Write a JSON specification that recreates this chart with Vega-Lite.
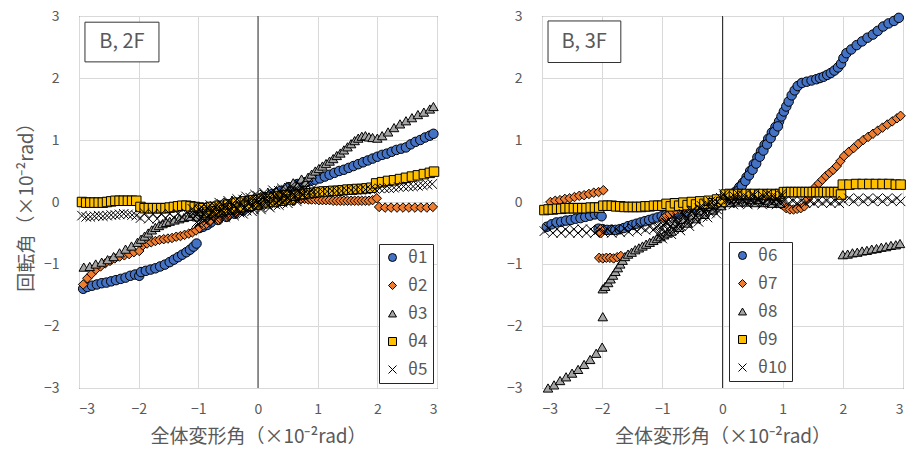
{
  "$schema": "https://vega.github.io/schema/vega-lite/v6.json",
  "padding": {"left": 16, "top": 8, "right": 2, "bottom": 4},
  "autosize": {"type": "pad"},
  "background": "white",
  "config": {
    "font": "Noto Sans CJK JP",
    "view": {"stroke": "#333333", "strokeWidth": 1},
    "axis": {
      "grid": true, "gridColor": "#d9d9d9", "gridWidth": 1,
      "ticks": false, "domain": false, "format": "d",
      "labelFont": "Noto Sans CJK JP", "labelFontSize": 14, "labelColor": "#595959",
      "titleFont": "Noto Sans CJK JP", "titleFontSize": 19, "titleFontWeight": "normal", "titleColor": "#595959"
    },
    "legend": {
      "labelFont": "Noto Sans CJK JP", "labelFontSize": 17, "labelColor": "#595959",
      "symbolSize": 64, "symbolStrokeColor": "#000000", "symbolStrokeWidth": 1,
      "strokeColor": "#262626", "fillColor": "#ffffff", "padding": 5,
      "rowPadding": 10, "labelOffset": 7
    }
  },
  "datasets": {
    "f2": [
      {"s":"θ1","x":-2.93,"y":-1.4},{"s":"θ1","x":-2.86,"y":-1.37},{"s":"θ1","x":-2.78,"y":-1.35},{"s":"θ1","x":-2.7,"y":-1.33},{"s":"θ1","x":-2.62,"y":-1.31},{"s":"θ1","x":-2.54,"y":-1.3},{"s":"θ1","x":-2.46,"y":-1.28},{"s":"θ1","x":-2.38,"y":-1.26},{"s":"θ1","x":-2.3,"y":-1.24},{"s":"θ1","x":-2.22,"y":-1.22},{"s":"θ1","x":-2.14,"y":-1.19},{"s":"θ1","x":-2.06,"y":-1.17},{"s":"θ1","x":-1.99,"y":-1.19},{"s":"θ1","x":-1.96,"y":-1.13},{"s":"θ1","x":-1.88,"y":-1.11},{"s":"θ1","x":-1.8,"y":-1.09},{"s":"θ1","x":-1.72,"y":-1.07},{"s":"θ1","x":-1.64,"y":-1.04},{"s":"θ1","x":-1.56,"y":-1.01},{"s":"θ1","x":-1.48,"y":-0.97},{"s":"θ1","x":-1.41,"y":-0.93},{"s":"θ1","x":-1.34,"y":-0.89},{"s":"θ1","x":-1.27,"y":-0.85},{"s":"θ1","x":-1.2,"y":-0.81},{"s":"θ1","x":-1.14,"y":-0.77},{"s":"θ1","x":-1.08,"y":-0.72},{"s":"θ1","x":-1.03,"y":-0.67},
      {"s":"θ1","x":-0.98,"y":-0.42},{"s":"θ1","x":-0.92,"y":-0.4},{"s":"θ1","x":-0.85,"y":-0.37},{"s":"θ1","x":-0.79,"y":-0.33},
      {"s":"θ1","x":-0.74,"y":-0.24},{"s":"θ1","x":-0.67,"y":-0.29},{"s":"θ1","x":-0.6,"y":-0.19},{"s":"θ1","x":-0.53,"y":-0.24},{"s":"θ1","x":-0.46,"y":-0.13},{"s":"θ1","x":-0.39,"y":-0.19},{"s":"θ1","x":-0.32,"y":-0.08},{"s":"θ1","x":-0.25,"y":-0.14},{"s":"θ1","x":-0.18,"y":-0.03},{"s":"θ1","x":-0.11,"y":-0.08},{"s":"θ1","x":-0.04,"y":0.02},{"s":"θ1","x":0.03,"y":-0.03},{"s":"θ1","x":0.1,"y":0.08},{"s":"θ1","x":0.17,"y":0.02},{"s":"θ1","x":0.24,"y":0.13},{"s":"θ1","x":0.31,"y":0.08},{"s":"θ1","x":0.38,"y":0.18},{"s":"θ1","x":0.45,"y":0.13},{"s":"θ1","x":0.52,"y":0.24},{"s":"θ1","x":0.59,"y":0.18},{"s":"θ1","x":0.66,"y":0.29},
      {"s":"θ1","x":0.72,"y":0.3},{"s":"θ1","x":0.8,"y":0.32},{"s":"θ1","x":0.88,"y":0.34},{"s":"θ1","x":0.96,"y":0.36},{"s":"θ1","x":1.04,"y":0.38},{"s":"θ1","x":1.12,"y":0.41},{"s":"θ1","x":1.2,"y":0.44},{"s":"θ1","x":1.28,"y":0.47},{"s":"θ1","x":1.36,"y":0.5},{"s":"θ1","x":1.44,"y":0.52},{"s":"θ1","x":1.52,"y":0.55},{"s":"θ1","x":1.6,"y":0.58},{"s":"θ1","x":1.68,"y":0.61},{"s":"θ1","x":1.76,"y":0.64},{"s":"θ1","x":1.84,"y":0.67},{"s":"θ1","x":1.92,"y":0.7},{"s":"θ1","x":2.0,"y":0.73},{"s":"θ1","x":2.08,"y":0.76},{"s":"θ1","x":2.16,"y":0.78},{"s":"θ1","x":2.24,"y":0.81},{"s":"θ1","x":2.32,"y":0.84},{"s":"θ1","x":2.4,"y":0.86},{"s":"θ1","x":2.48,"y":0.88},{"s":"θ1","x":2.56,"y":0.93},{"s":"θ1","x":2.64,"y":0.97},{"s":"θ1","x":2.72,"y":1.0},{"s":"θ1","x":2.8,"y":1.04},{"s":"θ1","x":2.88,"y":1.07},{"s":"θ1","x":2.94,"y":1.1},

      {"s":"θ2","x":-2.93,"y":-1.33},{"s":"θ2","x":-2.86,"y":-1.23},{"s":"θ2","x":-2.79,"y":-1.16},{"s":"θ2","x":-2.72,"y":-1.09},{"s":"θ2","x":-2.64,"y":-1.04},{"s":"θ2","x":-2.56,"y":-0.99},{"s":"θ2","x":-2.48,"y":-0.95},{"s":"θ2","x":-2.4,"y":-0.91},{"s":"θ2","x":-2.32,"y":-0.88},{"s":"θ2","x":-2.24,"y":-0.86},{"s":"θ2","x":-2.16,"y":-0.84},{"s":"θ2","x":-2.08,"y":-0.81},{"s":"θ2","x":-1.99,"y":-0.79},{"s":"θ2","x":-1.93,"y":-0.7},{"s":"θ2","x":-1.86,"y":-0.67},{"s":"θ2","x":-1.79,"y":-0.65},{"s":"θ2","x":-1.72,"y":-0.63},{"s":"θ2","x":-1.65,"y":-0.61},{"s":"θ2","x":-1.58,"y":-0.6},{"s":"θ2","x":-1.51,"y":-0.59},{"s":"θ2","x":-1.44,"y":-0.58},{"s":"θ2","x":-1.37,"y":-0.56},{"s":"θ2","x":-1.3,"y":-0.55},{"s":"θ2","x":-1.23,"y":-0.53},{"s":"θ2","x":-1.16,"y":-0.51},{"s":"θ2","x":-1.1,"y":-0.49},{"s":"θ2","x":-1.04,"y":-0.46},{"s":"θ2","x":-0.98,"y":-0.42},{"s":"θ2","x":-0.92,"y":-0.38},{"s":"θ2","x":-0.86,"y":-0.35},{"s":"θ2","x":-0.8,"y":-0.31},
      {"s":"θ2","x":-0.73,"y":-0.24},{"s":"θ2","x":-0.66,"y":-0.29},{"s":"θ2","x":-0.59,"y":-0.18},{"s":"θ2","x":-0.52,"y":-0.24},{"s":"θ2","x":-0.45,"y":-0.13},{"s":"θ2","x":-0.38,"y":-0.18},{"s":"θ2","x":-0.31,"y":-0.08},{"s":"θ2","x":-0.24,"y":-0.13},{"s":"θ2","x":-0.17,"y":-0.02},{"s":"θ2","x":-0.1,"y":-0.08},{"s":"θ2","x":-0.03,"y":0.03},{"s":"θ2","x":0.04,"y":-0.04},{"s":"θ2","x":0.11,"y":0.05},{"s":"θ2","x":0.18,"y":-0.02},{"s":"θ2","x":0.25,"y":0.07},{"s":"θ2","x":0.32,"y":-0.01},{"s":"θ2","x":0.39,"y":0.08},{"s":"θ2","x":0.46,"y":0.01},{"s":"θ2","x":0.53,"y":0.09},{"s":"θ2","x":0.6,"y":0.02},
      {"s":"θ2","x":0.66,"y":0.06},{"s":"θ2","x":0.72,"y":0.05},{"s":"θ2","x":0.78,"y":0.05},{"s":"θ2","x":0.84,"y":0.04},{"s":"θ2","x":0.9,"y":0.04},{"s":"θ2","x":0.96,"y":0.04},{"s":"θ2","x":1.02,"y":0.03},{"s":"θ2","x":1.08,"y":0.03},{"s":"θ2","x":1.14,"y":0.03},{"s":"θ2","x":1.2,"y":0.03},{"s":"θ2","x":1.26,"y":0.02},{"s":"θ2","x":1.32,"y":0.02},{"s":"θ2","x":1.38,"y":0.02},{"s":"θ2","x":1.44,"y":0.02},{"s":"θ2","x":1.5,"y":0.02},{"s":"θ2","x":1.56,"y":0.02},{"s":"θ2","x":1.62,"y":0.02},{"s":"θ2","x":1.68,"y":0.02},{"s":"θ2","x":1.74,"y":0.02},{"s":"θ2","x":1.8,"y":0.02},{"s":"θ2","x":1.86,"y":0.02},{"s":"θ2","x":1.92,"y":0.03},{"s":"θ2","x":1.99,"y":0.06},{"s":"θ2","x":2.03,"y":-0.08},{"s":"θ2","x":2.13,"y":-0.09},{"s":"θ2","x":2.23,"y":-0.09},{"s":"θ2","x":2.33,"y":-0.09},{"s":"θ2","x":2.43,"y":-0.09},{"s":"θ2","x":2.53,"y":-0.09},{"s":"θ2","x":2.63,"y":-0.09},{"s":"θ2","x":2.73,"y":-0.09},{"s":"θ2","x":2.83,"y":-0.09},{"s":"θ2","x":2.93,"y":-0.08},

      {"s":"θ3","x":-2.92,"y":-1.05},{"s":"θ3","x":-2.82,"y":-1.04},{"s":"θ3","x":-2.72,"y":-1.0},{"s":"θ3","x":-2.62,"y":-0.97},{"s":"θ3","x":-2.52,"y":-0.93},{"s":"θ3","x":-2.42,"y":-0.88},{"s":"θ3","x":-2.32,"y":-0.82},{"s":"θ3","x":-2.22,"y":-0.76},{"s":"θ3","x":-2.12,"y":-0.71},{"s":"θ3","x":-2.02,"y":-0.65},{"s":"θ3","x":-1.96,"y":-0.6},{"s":"θ3","x":-1.9,"y":-0.55},{"s":"θ3","x":-1.84,"y":-0.5},{"s":"θ3","x":-1.78,"y":-0.45},{"s":"θ3","x":-1.72,"y":-0.41},{"s":"θ3","x":-1.66,"y":-0.38},{"s":"θ3","x":-1.6,"y":-0.35},{"s":"θ3","x":-1.54,"y":-0.33},{"s":"θ3","x":-1.48,"y":-0.31},{"s":"θ3","x":-1.4,"y":-0.29},{"s":"θ3","x":-1.32,"y":-0.27},{"s":"θ3","x":-1.24,"y":-0.25},{"s":"θ3","x":-1.16,"y":-0.23},
      {"s":"θ3","x":-1.09,"y":-0.18},{"s":"θ3","x":-1.02,"y":-0.24},{"s":"θ3","x":-0.95,"y":-0.15},{"s":"θ3","x":-0.88,"y":-0.22},{"s":"θ3","x":-0.81,"y":-0.12},{"s":"θ3","x":-0.74,"y":-0.19},{"s":"θ3","x":-0.67,"y":-0.09},{"s":"θ3","x":-0.6,"y":-0.16},{"s":"θ3","x":-0.53,"y":-0.07},{"s":"θ3","x":-0.46,"y":-0.13},{"s":"θ3","x":-0.39,"y":-0.04},{"s":"θ3","x":-0.32,"y":-0.1},{"s":"θ3","x":-0.25,"y":-0.01},{"s":"θ3","x":-0.18,"y":-0.08},{"s":"θ3","x":-0.11,"y":0.02},{"s":"θ3","x":-0.04,"y":-0.05},{"s":"θ3","x":0.03,"y":0.05},{"s":"θ3","x":0.1,"y":0.01},{"s":"θ3","x":0.17,"y":0.12},{"s":"θ3","x":0.24,"y":0.07},{"s":"θ3","x":0.31,"y":0.18},{"s":"θ3","x":0.38,"y":0.13},{"s":"θ3","x":0.45,"y":0.24},{"s":"θ3","x":0.52,"y":0.19},{"s":"θ3","x":0.59,"y":0.31},{"s":"θ3","x":0.66,"y":0.26},{"s":"θ3","x":0.73,"y":0.37},{"s":"θ3","x":0.79,"y":0.32},
      {"s":"θ3","x":0.84,"y":0.4},{"s":"θ3","x":0.9,"y":0.45},{"s":"θ3","x":0.96,"y":0.5},{"s":"θ3","x":1.02,"y":0.54},{"s":"θ3","x":1.08,"y":0.58},{"s":"θ3","x":1.14,"y":0.62},{"s":"θ3","x":1.2,"y":0.66},{"s":"θ3","x":1.26,"y":0.7},{"s":"θ3","x":1.32,"y":0.75},{"s":"θ3","x":1.38,"y":0.79},{"s":"θ3","x":1.44,"y":0.84},{"s":"θ3","x":1.5,"y":0.89},{"s":"θ3","x":1.56,"y":0.94},{"s":"θ3","x":1.62,"y":0.99},{"s":"θ3","x":1.68,"y":1.03},{"s":"θ3","x":1.74,"y":1.06},{"s":"θ3","x":1.8,"y":1.07},{"s":"θ3","x":1.86,"y":1.05},{"s":"θ3","x":1.92,"y":1.04},{"s":"θ3","x":2.0,"y":1.03},{"s":"θ3","x":2.08,"y":1.07},{"s":"θ3","x":2.18,"y":1.13},{"s":"θ3","x":2.28,"y":1.2},{"s":"θ3","x":2.38,"y":1.26},{"s":"θ3","x":2.48,"y":1.31},{"s":"θ3","x":2.58,"y":1.36},{"s":"θ3","x":2.68,"y":1.41},{"s":"θ3","x":2.78,"y":1.45},{"s":"θ3","x":2.88,"y":1.5},{"s":"θ3","x":2.94,"y":1.54},

      {"s":"θ4","x":-2.95,"y":0.0},{"s":"θ4","x":-2.88,"y":-0.01},{"s":"θ4","x":-2.81,"y":-0.01},{"s":"θ4","x":-2.74,"y":-0.01},{"s":"θ4","x":-2.67,"y":-0.01},{"s":"θ4","x":-2.6,"y":-0.01},{"s":"θ4","x":-2.53,"y":0.0},{"s":"θ4","x":-2.46,"y":0.01},{"s":"θ4","x":-2.39,"y":0.02},{"s":"θ4","x":-2.32,"y":0.02},{"s":"θ4","x":-2.25,"y":0.02},{"s":"θ4","x":-2.18,"y":0.02},{"s":"θ4","x":-2.11,"y":0.02},{"s":"θ4","x":-2.04,"y":0.02},{"s":"θ4","x":-1.97,"y":-0.08},{"s":"θ4","x":-1.9,"y":-0.1},{"s":"θ4","x":-1.83,"y":-0.1},{"s":"θ4","x":-1.76,"y":-0.1},{"s":"θ4","x":-1.69,"y":-0.1},{"s":"θ4","x":-1.62,"y":-0.1},{"s":"θ4","x":-1.55,"y":-0.1},{"s":"θ4","x":-1.48,"y":-0.09},{"s":"θ4","x":-1.41,"y":-0.08},{"s":"θ4","x":-1.34,"y":-0.07},{"s":"θ4","x":-1.27,"y":-0.06},{"s":"θ4","x":-1.2,"y":-0.06},{"s":"θ4","x":-1.13,"y":-0.07},{"s":"θ4","x":-1.06,"y":-0.08},{"s":"θ4","x":-0.99,"y":-0.09},
      {"s":"θ4","x":-0.92,"y":-0.1},{"s":"θ4","x":-0.85,"y":-0.17},{"s":"θ4","x":-0.78,"y":-0.08},{"s":"θ4","x":-0.71,"y":-0.15},{"s":"θ4","x":-0.64,"y":-0.06},{"s":"θ4","x":-0.57,"y":-0.13},{"s":"θ4","x":-0.5,"y":-0.04},{"s":"θ4","x":-0.43,"y":-0.1},{"s":"θ4","x":-0.36,"y":-0.01},{"s":"θ4","x":-0.29,"y":-0.08},{"s":"θ4","x":-0.22,"y":0.01},{"s":"θ4","x":-0.15,"y":-0.06},{"s":"θ4","x":-0.08,"y":0.03},{"s":"θ4","x":-0.01,"y":-0.04},{"s":"θ4","x":0.06,"y":0.05},{"s":"θ4","x":0.13,"y":-0.02},{"s":"θ4","x":0.2,"y":0.07},{"s":"θ4","x":0.27,"y":0.0},{"s":"θ4","x":0.34,"y":0.09},{"s":"θ4","x":0.41,"y":0.02},{"s":"θ4","x":0.48,"y":0.11},{"s":"θ4","x":0.55,"y":0.04},
      {"s":"θ4","x":0.62,"y":0.1},{"s":"θ4","x":0.7,"y":0.12},{"s":"θ4","x":0.78,"y":0.13},{"s":"θ4","x":0.86,"y":0.14},{"s":"θ4","x":0.94,"y":0.15},{"s":"θ4","x":1.02,"y":0.16},{"s":"θ4","x":1.1,"y":0.17},{"s":"θ4","x":1.18,"y":0.17},{"s":"θ4","x":1.26,"y":0.18},{"s":"θ4","x":1.34,"y":0.18},{"s":"θ4","x":1.42,"y":0.19},{"s":"θ4","x":1.5,"y":0.2},{"s":"θ4","x":1.58,"y":0.2},{"s":"θ4","x":1.66,"y":0.21},{"s":"θ4","x":1.74,"y":0.21},{"s":"θ4","x":1.82,"y":0.22},{"s":"θ4","x":1.9,"y":0.23},{"s":"θ4","x":1.98,"y":0.3},{"s":"θ4","x":2.08,"y":0.32},{"s":"θ4","x":2.18,"y":0.34},{"s":"θ4","x":2.28,"y":0.35},{"s":"θ4","x":2.38,"y":0.37},{"s":"θ4","x":2.48,"y":0.39},{"s":"θ4","x":2.58,"y":0.41},{"s":"θ4","x":2.68,"y":0.43},{"s":"θ4","x":2.78,"y":0.45},{"s":"θ4","x":2.88,"y":0.47},{"s":"θ4","x":2.95,"y":0.49},

      {"s":"θ5","x":-2.95,"y":-0.22},{"s":"θ5","x":-2.88,"y":-0.24},{"s":"θ5","x":-2.81,"y":-0.24},{"s":"θ5","x":-2.74,"y":-0.23},{"s":"θ5","x":-2.67,"y":-0.22},{"s":"θ5","x":-2.6,"y":-0.23},{"s":"θ5","x":-2.53,"y":-0.22},{"s":"θ5","x":-2.46,"y":-0.21},{"s":"θ5","x":-2.39,"y":-0.21},{"s":"θ5","x":-2.32,"y":-0.2},{"s":"θ5","x":-2.25,"y":-0.19},{"s":"θ5","x":-2.18,"y":-0.2},{"s":"θ5","x":-2.11,"y":-0.21},{"s":"θ5","x":-2.04,"y":-0.22},{"s":"θ5","x":-1.97,"y":-0.26},{"s":"θ5","x":-1.9,"y":-0.18},{"s":"θ5","x":-1.83,"y":-0.27},{"s":"θ5","x":-1.76,"y":-0.19},{"s":"θ5","x":-1.69,"y":-0.27},{"s":"θ5","x":-1.62,"y":-0.19},{"s":"θ5","x":-1.55,"y":-0.26},{"s":"θ5","x":-1.48,"y":-0.19},{"s":"θ5","x":-1.41,"y":-0.25},{"s":"θ5","x":-1.34,"y":-0.19},{"s":"θ5","x":-1.27,"y":-0.24},{"s":"θ5","x":-1.2,"y":-0.18},{"s":"θ5","x":-1.13,"y":-0.22},{"s":"θ5","x":-1.06,"y":-0.17},
      {"s":"θ5","x":-0.99,"y":-0.13},{"s":"θ5","x":-0.92,"y":-0.2},{"s":"θ5","x":-0.85,"y":-0.1},{"s":"θ5","x":-0.78,"y":-0.17},{"s":"θ5","x":-0.71,"y":-0.08},{"s":"θ5","x":-0.64,"y":-0.15},{"s":"θ5","x":-0.57,"y":-0.06},{"s":"θ5","x":-0.5,"y":-0.13},{"s":"θ5","x":-0.43,"y":-0.03},{"s":"θ5","x":-0.36,"y":-0.1},{"s":"θ5","x":-0.29,"y":-0.01},{"s":"θ5","x":-0.22,"y":-0.08},{"s":"θ5","x":-0.15,"y":0.01},{"s":"θ5","x":-0.08,"y":-0.05},{"s":"θ5","x":-0.01,"y":0.04},{"s":"θ5","x":0.06,"y":-0.03},{"s":"θ5","x":0.13,"y":0.06},{"s":"θ5","x":0.2,"y":-0.01},{"s":"θ5","x":0.27,"y":0.09},{"s":"θ5","x":0.34,"y":0.02},{"s":"θ5","x":0.41,"y":0.11},{"s":"θ5","x":0.48,"y":0.04},{"s":"θ5","x":0.55,"y":0.13},{"s":"θ5","x":0.62,"y":0.07},{"s":"θ5","x":0.69,"y":0.16},
      {"s":"θ5","x":-1.03,"y":-0.33},{"s":"θ5","x":-0.97,"y":-0.11},{"s":"θ5","x":-0.91,"y":-0.3},{"s":"θ5","x":-0.85,"y":-0.09},{"s":"θ5","x":-0.79,"y":-0.27},{"s":"θ5","x":-0.73,"y":-0.06},{"s":"θ5","x":-0.67,"y":-0.25},{"s":"θ5","x":-0.61,"y":-0.03},{"s":"θ5","x":-0.55,"y":-0.22},{"s":"θ5","x":-0.49,"y":-0.01},{"s":"θ5","x":-0.43,"y":-0.19},{"s":"θ5","x":-0.37,"y":0.02},{"s":"θ5","x":-0.31,"y":-0.17},{"s":"θ5","x":-0.25,"y":0.04},{"s":"θ5","x":-0.19,"y":-0.14},{"s":"θ5","x":-0.13,"y":0.07},{"s":"θ5","x":-0.07,"y":-0.12},{"s":"θ5","x":-0.01,"y":0.1},{"s":"θ5","x":0.05,"y":-0.09},{"s":"θ5","x":0.11,"y":0.12},{"s":"θ5","x":0.17,"y":-0.06},{"s":"θ5","x":0.23,"y":0.15},{"s":"θ5","x":0.29,"y":-0.04},{"s":"θ5","x":0.35,"y":0.18},{"s":"θ5","x":0.41,"y":-0.01},{"s":"θ5","x":0.47,"y":0.2},{"s":"θ5","x":0.53,"y":0.02},{"s":"θ5","x":0.59,"y":0.23},{"s":"θ5","x":0.65,"y":0.04},{"s":"θ5","x":0.71,"y":0.26},
      {"s":"θ5","x":-1.0,"y":-0.18},{"s":"θ5","x":-0.94,"y":-0.25},{"s":"θ5","x":-0.88,"y":-0.15},{"s":"θ5","x":-0.82,"y":-0.22},{"s":"θ5","x":-0.76,"y":-0.13},{"s":"θ5","x":-0.7,"y":-0.19},{"s":"θ5","x":-0.64,"y":-0.1},{"s":"θ5","x":-0.58,"y":-0.17},{"s":"θ5","x":-0.52,"y":-0.07},{"s":"θ5","x":-0.46,"y":-0.14},{"s":"θ5","x":-0.4,"y":-0.05},{"s":"θ5","x":-0.34,"y":-0.11},{"s":"θ5","x":-0.28,"y":-0.02},{"s":"θ5","x":-0.22,"y":-0.09},{"s":"θ5","x":-0.16,"y":0.0},{"s":"θ5","x":-0.1,"y":-0.06},{"s":"θ5","x":-0.04,"y":0.03},{"s":"θ5","x":0.02,"y":-0.04},{"s":"θ5","x":0.08,"y":0.06},{"s":"θ5","x":0.14,"y":-0.01},{"s":"θ5","x":0.2,"y":0.08},{"s":"θ5","x":0.26,"y":0.02},{"s":"θ5","x":0.32,"y":0.11},{"s":"θ5","x":0.38,"y":0.04},{"s":"θ5","x":0.44,"y":0.14},{"s":"θ5","x":0.5,"y":0.07},{"s":"θ5","x":0.56,"y":0.16},{"s":"θ5","x":0.62,"y":0.1},{"s":"θ5","x":0.68,"y":0.19},{"s":"θ5","x":0.74,"y":0.12},{"s":"θ5","x":0.8,"y":0.22},{"s":"θ5","x":0.86,"y":0.15},
      {"s":"θ5","x":-1.1,"y":-0.11},{"s":"θ5","x":-1.05,"y":-0.23},{"s":"θ5","x":-1.0,"y":-0.35},{"s":"θ5","x":-0.95,"y":-0.08},{"s":"θ5","x":-0.9,"y":-0.2},{"s":"θ5","x":-0.85,"y":-0.32},{"s":"θ5","x":-0.8,"y":-0.05},{"s":"θ5","x":-0.75,"y":-0.17},{"s":"θ5","x":-0.7,"y":-0.28},{"s":"θ5","x":-0.65,"y":-0.01},{"s":"θ5","x":-0.6,"y":-0.13},{"s":"θ5","x":-0.55,"y":-0.25},{"s":"θ5","x":-0.5,"y":0.02},{"s":"θ5","x":-0.45,"y":-0.1},{"s":"θ5","x":-0.4,"y":-0.22},{"s":"θ5","x":-0.35,"y":0.05},{"s":"θ5","x":-0.3,"y":-0.07},{"s":"θ5","x":-0.25,"y":-0.19},{"s":"θ5","x":-0.2,"y":0.09},{"s":"θ5","x":-0.15,"y":-0.03},{"s":"θ5","x":-0.1,"y":-0.15},{"s":"θ5","x":-0.05,"y":0.12},{"s":"θ5","x":0.0,"y":0.0},{"s":"θ5","x":0.05,"y":-0.12},{"s":"θ5","x":0.1,"y":0.15},{"s":"θ5","x":0.15,"y":0.03},{"s":"θ5","x":0.2,"y":-0.09},{"s":"θ5","x":0.25,"y":0.19},{"s":"θ5","x":0.3,"y":0.07},{"s":"θ5","x":0.35,"y":-0.05},{"s":"θ5","x":0.4,"y":0.22},{"s":"θ5","x":0.45,"y":0.1},{"s":"θ5","x":0.5,"y":-0.02},{"s":"θ5","x":0.55,"y":0.25},{"s":"θ5","x":0.6,"y":0.13},{"s":"θ5","x":0.65,"y":0.01},{"s":"θ5","x":0.7,"y":0.28},{"s":"θ5","x":0.75,"y":0.17},{"s":"θ5","x":0.8,"y":0.05},{"s":"θ5","x":0.85,"y":0.32},{"s":"θ5","x":0.9,"y":0.2},
      {"s":"θ5","x":0.76,"y":0.12},{"s":"θ5","x":0.84,"y":0.13},{"s":"θ5","x":0.92,"y":0.15},{"s":"θ5","x":1.0,"y":0.16},{"s":"θ5","x":1.08,"y":0.17},{"s":"θ5","x":1.16,"y":0.17},{"s":"θ5","x":1.24,"y":0.18},{"s":"θ5","x":1.32,"y":0.18},{"s":"θ5","x":1.4,"y":0.18},{"s":"θ5","x":1.48,"y":0.19},{"s":"θ5","x":1.56,"y":0.19},{"s":"θ5","x":1.64,"y":0.2},{"s":"θ5","x":1.72,"y":0.2},{"s":"θ5","x":1.8,"y":0.2},{"s":"θ5","x":1.88,"y":0.21},{"s":"θ5","x":1.96,"y":0.21},{"s":"θ5","x":2.04,"y":0.22},{"s":"θ5","x":2.12,"y":0.22},{"s":"θ5","x":2.2,"y":0.22},{"s":"θ5","x":2.28,"y":0.23},{"s":"θ5","x":2.36,"y":0.24},{"s":"θ5","x":2.44,"y":0.25},{"s":"θ5","x":2.52,"y":0.25},{"s":"θ5","x":2.6,"y":0.25},{"s":"θ5","x":2.68,"y":0.26},{"s":"θ5","x":2.76,"y":0.27},{"s":"θ5","x":2.84,"y":0.28},{"s":"θ5","x":2.92,"y":0.29}
    ],
    "f3": [
      {"s":"θ6","x":-2.92,"y":-0.4},{"s":"θ6","x":-2.84,"y":-0.36},{"s":"θ6","x":-2.76,"y":-0.33},{"s":"θ6","x":-2.68,"y":-0.32},{"s":"θ6","x":-2.6,"y":-0.3},{"s":"θ6","x":-2.52,"y":-0.29},{"s":"θ6","x":-2.44,"y":-0.27},{"s":"θ6","x":-2.36,"y":-0.26},{"s":"θ6","x":-2.28,"y":-0.24},{"s":"θ6","x":-2.2,"y":-0.22},{"s":"θ6","x":-2.12,"y":-0.2},{"s":"θ6","x":-2.05,"y":-0.19},{"s":"θ6","x":-2.01,"y":-0.23},
      {"s":"θ6","x":-2.06,"y":-0.43},{"s":"θ6","x":-1.99,"y":-0.44},{"s":"θ6","x":-1.92,"y":-0.45},{"s":"θ6","x":-1.85,"y":-0.45},{"s":"θ6","x":-1.78,"y":-0.45},{"s":"θ6","x":-1.71,"y":-0.44},{"s":"θ6","x":-1.64,"y":-0.42},{"s":"θ6","x":-1.57,"y":-0.39},{"s":"θ6","x":-1.5,"y":-0.37},{"s":"θ6","x":-1.43,"y":-0.35},{"s":"θ6","x":-1.36,"y":-0.33},{"s":"θ6","x":-1.29,"y":-0.31},{"s":"θ6","x":-1.22,"y":-0.29},{"s":"θ6","x":-1.15,"y":-0.27},{"s":"θ6","x":-1.08,"y":-0.25},{"s":"θ6","x":-1.01,"y":-0.23},{"s":"θ6","x":-0.94,"y":-0.21},{"s":"θ6","x":-0.87,"y":-0.19},
      {"s":"θ6","x":-0.8,"y":-0.14},{"s":"θ6","x":-0.73,"y":-0.2},{"s":"θ6","x":-0.66,"y":-0.11},{"s":"θ6","x":-0.59,"y":-0.17},{"s":"θ6","x":-0.52,"y":-0.07},{"s":"θ6","x":-0.45,"y":-0.14},{"s":"θ6","x":-0.38,"y":-0.04},{"s":"θ6","x":-0.31,"y":-0.11},{"s":"θ6","x":-0.24,"y":-0.01},{"s":"θ6","x":-0.17,"y":-0.08},{"s":"θ6","x":-0.1,"y":0.02},{"s":"θ6","x":-0.03,"y":-0.05},{"s":"θ6","x":0.04,"y":0.05},
      {"s":"θ6","x":0.1,"y":0.06},{"s":"θ6","x":0.16,"y":0.11},{"s":"θ6","x":0.22,"y":0.17},{"s":"θ6","x":0.28,"y":0.24},{"s":"θ6","x":0.34,"y":0.31},{"s":"θ6","x":0.4,"y":0.4},{"s":"θ6","x":0.46,"y":0.5},{"s":"θ6","x":0.52,"y":0.61},{"s":"θ6","x":0.58,"y":0.72},{"s":"θ6","x":0.64,"y":0.82},{"s":"θ6","x":0.7,"y":0.92},{"s":"θ6","x":0.76,"y":1.02},{"s":"θ6","x":0.82,"y":1.12},{"s":"θ6","x":0.88,"y":1.21},{"s":"θ6","x":0.94,"y":1.3},
      {"s":"θ6","x":0.2,"y":0.12},{"s":"θ6","x":0.26,"y":0.18},{"s":"θ6","x":0.32,"y":0.26},{"s":"θ6","x":0.38,"y":0.34},{"s":"θ6","x":0.44,"y":0.43},{"s":"θ6","x":0.5,"y":0.52},{"s":"θ6","x":0.56,"y":0.62},{"s":"θ6","x":0.62,"y":0.73},{"s":"θ6","x":0.68,"y":0.83},{"s":"θ6","x":0.74,"y":0.93},{"s":"θ6","x":0.8,"y":1.03},{"s":"θ6","x":0.86,"y":1.13},{"s":"θ6","x":0.92,"y":1.22},
      {"s":"θ6","x":0.98,"y":1.38},{"s":"θ6","x":1.02,"y":1.46},{"s":"θ6","x":1.06,"y":1.54},{"s":"θ6","x":1.1,"y":1.62},{"s":"θ6","x":1.15,"y":1.72},{"s":"θ6","x":1.2,"y":1.8},{"s":"θ6","x":1.25,"y":1.87},{"s":"θ6","x":1.32,"y":1.92},{"s":"θ6","x":1.4,"y":1.94},{"s":"θ6","x":1.48,"y":1.96},{"s":"θ6","x":1.56,"y":1.98},{"s":"θ6","x":1.62,"y":2.0},{"s":"θ6","x":1.68,"y":2.02},{"s":"θ6","x":1.74,"y":2.05},{"s":"θ6","x":1.8,"y":2.08},{"s":"θ6","x":1.86,"y":2.12},{"s":"θ6","x":1.92,"y":2.17},{"s":"θ6","x":1.97,"y":2.23},{"s":"θ6","x":2.01,"y":2.32},{"s":"θ6","x":2.06,"y":2.4},{"s":"θ6","x":2.14,"y":2.46},{"s":"θ6","x":2.23,"y":2.53},{"s":"θ6","x":2.32,"y":2.59},{"s":"θ6","x":2.41,"y":2.65},{"s":"θ6","x":2.5,"y":2.7},{"s":"θ6","x":2.58,"y":2.76},{"s":"θ6","x":2.67,"y":2.83},{"s":"θ6","x":2.76,"y":2.88},{"s":"θ6","x":2.85,"y":2.92},{"s":"θ6","x":2.93,"y":2.97},

      {"s":"θ7","x":-2.86,"y":0.0},{"s":"θ7","x":-2.78,"y":0.02},{"s":"θ7","x":-2.7,"y":0.03},{"s":"θ7","x":-2.62,"y":0.05},{"s":"θ7","x":-2.54,"y":0.06},{"s":"θ7","x":-2.46,"y":0.08},{"s":"θ7","x":-2.38,"y":0.1},{"s":"θ7","x":-2.3,"y":0.11},{"s":"θ7","x":-2.22,"y":0.13},{"s":"θ7","x":-2.14,"y":0.15},{"s":"θ7","x":-2.06,"y":0.16},{"s":"θ7","x":-1.98,"y":0.19},
      {"s":"θ7","x":-2.03,"y":-0.44},{"s":"θ7","x":-2.02,"y":-0.5},
      {"s":"θ7","x":-2.05,"y":-0.9},{"s":"θ7","x":-1.99,"y":-0.91},{"s":"θ7","x":-1.93,"y":-0.9},{"s":"θ7","x":-1.87,"y":-0.9},{"s":"θ7","x":-1.81,"y":-0.91},{"s":"θ7","x":-1.75,"y":-0.89},{"s":"θ7","x":-1.69,"y":-0.87},
      {"s":"θ7","x":-0.98,"y":-0.26},{"s":"θ7","x":-0.93,"y":-0.22},{"s":"θ7","x":-0.88,"y":-0.19},{"s":"θ7","x":-0.83,"y":-0.16},{"s":"θ7","x":-0.78,"y":-0.13},{"s":"θ7","x":-0.71,"y":-0.12},{"s":"θ7","x":-0.64,"y":-0.09},{"s":"θ7","x":-0.57,"y":-0.1},{"s":"θ7","x":-0.5,"y":-0.06},{"s":"θ7","x":-0.43,"y":-0.08},{"s":"θ7","x":-0.36,"y":-0.03},{"s":"θ7","x":-0.29,"y":-0.06},{"s":"θ7","x":-0.22,"y":-0.01},{"s":"θ7","x":-0.15,"y":-0.04},{"s":"θ7","x":-0.08,"y":0.02},{"s":"θ7","x":-0.01,"y":-0.01},
      {"s":"θ7","x":0.06,"y":0.05},{"s":"θ7","x":0.13,"y":0.0},{"s":"θ7","x":0.2,"y":0.06},{"s":"θ7","x":0.27,"y":0.01},{"s":"θ7","x":0.34,"y":0.06},{"s":"θ7","x":0.41,"y":0.01},{"s":"θ7","x":0.48,"y":0.06},{"s":"θ7","x":0.55,"y":0.01},{"s":"θ7","x":0.62,"y":0.05},{"s":"θ7","x":0.69,"y":0.0},{"s":"θ7","x":0.76,"y":0.04},{"s":"θ7","x":0.83,"y":-0.01},{"s":"θ7","x":0.9,"y":0.02},{"s":"θ7","x":0.96,"y":-0.03},
      {"s":"θ7","x":1.0,"y":-0.05},{"s":"θ7","x":1.06,"y":-0.1},{"s":"θ7","x":1.12,"y":-0.12},{"s":"θ7","x":1.18,"y":-0.12},{"s":"θ7","x":1.24,"y":-0.11},{"s":"θ7","x":1.3,"y":-0.1},{"s":"θ7","x":1.36,"y":-0.07},{"s":"θ7","x":1.42,"y":0.05},{"s":"θ7","x":1.48,"y":0.17},{"s":"θ7","x":1.54,"y":0.24},{"s":"θ7","x":1.6,"y":0.3},{"s":"θ7","x":1.66,"y":0.36},{"s":"θ7","x":1.72,"y":0.42},{"s":"θ7","x":1.78,"y":0.47},{"s":"θ7","x":1.84,"y":0.52},{"s":"θ7","x":1.9,"y":0.58},{"s":"θ7","x":1.96,"y":0.66},{"s":"θ7","x":2.02,"y":0.74},{"s":"θ7","x":2.1,"y":0.81},{"s":"θ7","x":2.18,"y":0.87},{"s":"θ7","x":2.26,"y":0.94},{"s":"θ7","x":2.34,"y":1.0},{"s":"θ7","x":2.42,"y":1.05},{"s":"θ7","x":2.5,"y":1.1},{"s":"θ7","x":2.58,"y":1.15},{"s":"θ7","x":2.66,"y":1.2},{"s":"θ7","x":2.74,"y":1.25},{"s":"θ7","x":2.82,"y":1.3},{"s":"θ7","x":2.9,"y":1.35},{"s":"θ7","x":2.96,"y":1.39},

      {"s":"θ8","x":-2.9,"y":-3.0},{"s":"θ8","x":-2.8,"y":-2.95},{"s":"θ8","x":-2.7,"y":-2.88},{"s":"θ8","x":-2.6,"y":-2.82},{"s":"θ8","x":-2.5,"y":-2.76},{"s":"θ8","x":-2.4,"y":-2.7},{"s":"θ8","x":-2.3,"y":-2.62},{"s":"θ8","x":-2.2,"y":-2.54},{"s":"θ8","x":-2.1,"y":-2.44},{"s":"θ8","x":-2.0,"y":-2.34},{"s":"θ8","x":-1.99,"y":-1.85},{"s":"θ8","x":-1.99,"y":-1.4},{"s":"θ8","x":-1.95,"y":-1.36},{"s":"θ8","x":-1.9,"y":-1.3},{"s":"θ8","x":-1.86,"y":-1.24},{"s":"θ8","x":-1.82,"y":-1.18},{"s":"θ8","x":-1.78,"y":-1.12},{"s":"θ8","x":-1.74,"y":-1.06},{"s":"θ8","x":-1.7,"y":-1.0},{"s":"θ8","x":-1.66,"y":-0.94},{"s":"θ8","x":-1.62,"y":-0.88},{"s":"θ8","x":-1.57,"y":-0.84},{"s":"θ8","x":-1.51,"y":-0.81},{"s":"θ8","x":-1.45,"y":-0.77},{"s":"θ8","x":-1.39,"y":-0.74},{"s":"θ8","x":-1.33,"y":-0.71},{"s":"θ8","x":-1.27,"y":-0.68},{"s":"θ8","x":-1.21,"y":-0.65},{"s":"θ8","x":-1.15,"y":-0.62},{"s":"θ8","x":-1.09,"y":-0.59},{"s":"θ8","x":-1.03,"y":-0.56},{"s":"θ8","x":-0.97,"y":-0.53},{"s":"θ8","x":-0.91,"y":-0.5},{"s":"θ8","x":-0.85,"y":-0.47},
      {"s":"θ8","x":-0.79,"y":-0.35},{"s":"θ8","x":-0.72,"y":-0.41},{"s":"θ8","x":-0.65,"y":-0.28},{"s":"θ8","x":-0.58,"y":-0.34},{"s":"θ8","x":-0.51,"y":-0.21},{"s":"θ8","x":-0.44,"y":-0.27},{"s":"θ8","x":-0.37,"y":-0.14},{"s":"θ8","x":-0.3,"y":-0.2},{"s":"θ8","x":-0.23,"y":-0.07},{"s":"θ8","x":-0.16,"y":-0.13},{"s":"θ8","x":-0.09,"y":0.0},{"s":"θ8","x":-0.02,"y":-0.06},
      {"s":"θ8","x":0.05,"y":0.04},{"s":"θ8","x":0.12,"y":-0.01},{"s":"θ8","x":0.19,"y":0.05},{"s":"θ8","x":0.26,"y":0.0},{"s":"θ8","x":0.33,"y":0.05},{"s":"θ8","x":0.4,"y":0.0},{"s":"θ8","x":0.47,"y":0.04},{"s":"θ8","x":0.54,"y":-0.01},{"s":"θ8","x":0.61,"y":0.04},{"s":"θ8","x":0.68,"y":-0.01},{"s":"θ8","x":0.75,"y":0.03},{"s":"θ8","x":0.82,"y":-0.02},{"s":"θ8","x":0.89,"y":0.03},{"s":"θ8","x":0.96,"y":-0.02},
      {"s":"θ8","x":2.0,"y":-0.85},{"s":"θ8","x":2.08,"y":-0.84},{"s":"θ8","x":2.16,"y":-0.82},{"s":"θ8","x":2.24,"y":-0.81},{"s":"θ8","x":2.32,"y":-0.79},{"s":"θ8","x":2.4,"y":-0.78},{"s":"θ8","x":2.48,"y":-0.76},{"s":"θ8","x":2.56,"y":-0.75},{"s":"θ8","x":2.64,"y":-0.73},{"s":"θ8","x":2.72,"y":-0.72},{"s":"θ8","x":2.8,"y":-0.7},{"s":"θ8","x":2.88,"y":-0.69},{"s":"θ8","x":2.95,"y":-0.67},

      {"s":"θ9","x":-2.96,"y":-0.13},{"s":"θ9","x":-2.89,"y":-0.12},{"s":"θ9","x":-2.82,"y":-0.12},{"s":"θ9","x":-2.75,"y":-0.11},{"s":"θ9","x":-2.68,"y":-0.11},{"s":"θ9","x":-2.61,"y":-0.1},{"s":"θ9","x":-2.54,"y":-0.1},{"s":"θ9","x":-2.47,"y":-0.1},{"s":"θ9","x":-2.4,"y":-0.1},{"s":"θ9","x":-2.33,"y":-0.1},{"s":"θ9","x":-2.26,"y":-0.1},{"s":"θ9","x":-2.19,"y":-0.09},{"s":"θ9","x":-2.12,"y":-0.09},{"s":"θ9","x":-2.05,"y":-0.09},{"s":"θ9","x":-1.98,"y":-0.06},{"s":"θ9","x":-1.91,"y":-0.06},{"s":"θ9","x":-1.84,"y":-0.06},{"s":"θ9","x":-1.77,"y":-0.07},{"s":"θ9","x":-1.7,"y":-0.07},{"s":"θ9","x":-1.63,"y":-0.08},{"s":"θ9","x":-1.56,"y":-0.08},{"s":"θ9","x":-1.49,"y":-0.08},{"s":"θ9","x":-1.42,"y":-0.08},{"s":"θ9","x":-1.35,"y":-0.08},{"s":"θ9","x":-1.28,"y":-0.07},{"s":"θ9","x":-1.21,"y":-0.07},{"s":"θ9","x":-1.14,"y":-0.06},{"s":"θ9","x":-1.07,"y":-0.06},{"s":"θ9","x":-1.0,"y":-0.06},
      {"s":"θ9","x":-0.93,"y":-0.03},{"s":"θ9","x":-0.86,"y":-0.07},{"s":"θ9","x":-0.79,"y":-0.02},{"s":"θ9","x":-0.72,"y":-0.06},{"s":"θ9","x":-0.65,"y":-0.01},{"s":"θ9","x":-0.58,"y":-0.05},{"s":"θ9","x":-0.51,"y":0.0},{"s":"θ9","x":-0.44,"y":-0.04},{"s":"θ9","x":-0.37,"y":0.01},{"s":"θ9","x":-0.3,"y":-0.03},{"s":"θ9","x":-0.23,"y":0.02},{"s":"θ9","x":-0.16,"y":-0.02},{"s":"θ9","x":-0.09,"y":0.04},{"s":"θ9","x":-0.02,"y":0.0},
      {"s":"θ9","x":0.05,"y":0.12},{"s":"θ9","x":0.12,"y":0.13},{"s":"θ9","x":0.19,"y":0.12},{"s":"θ9","x":0.26,"y":0.13},{"s":"θ9","x":0.33,"y":0.12},{"s":"θ9","x":0.4,"y":0.13},{"s":"θ9","x":0.47,"y":0.12},{"s":"θ9","x":0.54,"y":0.13},{"s":"θ9","x":0.61,"y":0.12},{"s":"θ9","x":0.68,"y":0.13},{"s":"θ9","x":0.75,"y":0.12},{"s":"θ9","x":0.82,"y":0.13},{"s":"θ9","x":0.89,"y":0.12},{"s":"θ9","x":0.96,"y":0.13},
      {"s":"θ9","x":1.02,"y":0.16},{"s":"θ9","x":1.08,"y":0.16},{"s":"θ9","x":1.14,"y":0.16},{"s":"θ9","x":1.2,"y":0.16},{"s":"θ9","x":1.26,"y":0.16},{"s":"θ9","x":1.32,"y":0.16},{"s":"θ9","x":1.38,"y":0.16},{"s":"θ9","x":1.44,"y":0.16},{"s":"θ9","x":1.5,"y":0.16},{"s":"θ9","x":1.56,"y":0.16},{"s":"θ9","x":1.62,"y":0.16},{"s":"θ9","x":1.68,"y":0.16},{"s":"θ9","x":1.74,"y":0.16},{"s":"θ9","x":1.8,"y":0.16},{"s":"θ9","x":1.86,"y":0.16},{"s":"θ9","x":1.92,"y":0.16},{"s":"θ9","x":1.97,"y":0.12},
      {"s":"θ9","x":2.0,"y":0.28},{"s":"θ9","x":2.11,"y":0.28},{"s":"θ9","x":2.22,"y":0.29},{"s":"θ9","x":2.33,"y":0.29},{"s":"θ9","x":2.44,"y":0.29},{"s":"θ9","x":2.55,"y":0.29},{"s":"θ9","x":2.66,"y":0.29},{"s":"θ9","x":2.77,"y":0.29},{"s":"θ9","x":2.88,"y":0.28},{"s":"θ9","x":2.96,"y":0.28},

      {"s":"θ10","x":-2.96,"y":-0.47},{"s":"θ10","x":-2.89,"y":-0.43},{"s":"θ10","x":-2.82,"y":-0.5},{"s":"θ10","x":-2.75,"y":-0.44},{"s":"θ10","x":-2.68,"y":-0.5},{"s":"θ10","x":-2.61,"y":-0.44},{"s":"θ10","x":-2.54,"y":-0.5},{"s":"θ10","x":-2.47,"y":-0.44},{"s":"θ10","x":-2.4,"y":-0.5},{"s":"θ10","x":-2.33,"y":-0.44},{"s":"θ10","x":-2.26,"y":-0.5},{"s":"θ10","x":-2.19,"y":-0.44},{"s":"θ10","x":-2.12,"y":-0.5},{"s":"θ10","x":-2.05,"y":-0.45},{"s":"θ10","x":-1.98,"y":-0.49},{"s":"θ10","x":-1.91,"y":-0.44},{"s":"θ10","x":-1.84,"y":-0.5},{"s":"θ10","x":-1.77,"y":-0.44},{"s":"θ10","x":-1.7,"y":-0.49},{"s":"θ10","x":-1.63,"y":-0.43},{"s":"θ10","x":-1.56,"y":-0.48},{"s":"θ10","x":-1.49,"y":-0.42},{"s":"θ10","x":-1.42,"y":-0.47},{"s":"θ10","x":-1.35,"y":-0.41},{"s":"θ10","x":-1.28,"y":-0.45},{"s":"θ10","x":-1.21,"y":-0.4},{"s":"θ10","x":-1.14,"y":-0.44},{"s":"θ10","x":-1.07,"y":-0.39},{"s":"θ10","x":-1.0,"y":-0.42},
      {"s":"θ10","x":-0.93,"y":-0.33},{"s":"θ10","x":-0.86,"y":-0.38},{"s":"θ10","x":-0.79,"y":-0.28},{"s":"θ10","x":-0.72,"y":-0.33},{"s":"θ10","x":-0.65,"y":-0.22},{"s":"θ10","x":-0.58,"y":-0.27},{"s":"θ10","x":-0.51,"y":-0.16},{"s":"θ10","x":-0.44,"y":-0.22},{"s":"θ10","x":-0.37,"y":-0.11},{"s":"θ10","x":-0.3,"y":-0.16},{"s":"θ10","x":-0.23,"y":-0.05},{"s":"θ10","x":-0.16,"y":-0.1},{"s":"θ10","x":-0.09,"y":0.0},{"s":"θ10","x":-0.02,"y":-0.05},
      {"s":"θ10","x":-1.05,"y":-0.55},{"s":"θ10","x":-0.99,"y":-0.37},{"s":"θ10","x":-0.93,"y":-0.5},{"s":"θ10","x":-0.87,"y":-0.31},{"s":"θ10","x":-0.81,"y":-0.44},{"s":"θ10","x":-0.75,"y":-0.26},{"s":"θ10","x":-0.69,"y":-0.39},{"s":"θ10","x":-0.63,"y":-0.2},{"s":"θ10","x":-0.57,"y":-0.34},{"s":"θ10","x":-0.51,"y":-0.15},{"s":"θ10","x":-0.45,"y":-0.28},{"s":"θ10","x":-0.39,"y":-0.1},{"s":"θ10","x":-0.33,"y":-0.23},{"s":"θ10","x":-0.27,"y":-0.04},{"s":"θ10","x":-0.21,"y":-0.17},{"s":"θ10","x":-0.15,"y":0.01},{"s":"θ10","x":-0.09,"y":-0.12},{"s":"θ10","x":-0.03,"y":0.07},
      {"s":"θ10","x":-1.1,"y":-0.4},{"s":"θ10","x":-1.05,"y":-0.49},{"s":"θ10","x":-1.0,"y":-0.59},{"s":"θ10","x":-0.95,"y":-0.33},{"s":"θ10","x":-0.9,"y":-0.43},{"s":"θ10","x":-0.85,"y":-0.52},{"s":"θ10","x":-0.8,"y":-0.26},{"s":"θ10","x":-0.75,"y":-0.36},{"s":"θ10","x":-0.7,"y":-0.46},{"s":"θ10","x":-0.65,"y":-0.19},{"s":"θ10","x":-0.6,"y":-0.29},{"s":"θ10","x":-0.55,"y":-0.39},{"s":"θ10","x":-0.5,"y":-0.13},{"s":"θ10","x":-0.45,"y":-0.22},{"s":"θ10","x":-0.4,"y":-0.32},{"s":"θ10","x":-0.35,"y":-0.06},{"s":"θ10","x":-0.3,"y":-0.16},{"s":"θ10","x":-0.25,"y":-0.25},{"s":"θ10","x":-0.2,"y":0.01},{"s":"θ10","x":-0.15,"y":-0.09},{"s":"θ10","x":-0.1,"y":-0.19},
      {"s":"θ10","x":0.05,"y":0.03},{"s":"θ10","x":0.12,"y":-0.02},{"s":"θ10","x":0.19,"y":0.03},{"s":"θ10","x":0.26,"y":-0.02},{"s":"θ10","x":0.33,"y":0.03},{"s":"θ10","x":0.4,"y":-0.02},{"s":"θ10","x":0.47,"y":0.03},{"s":"θ10","x":0.54,"y":-0.02},{"s":"θ10","x":0.61,"y":0.03},{"s":"θ10","x":0.68,"y":-0.02},{"s":"θ10","x":0.75,"y":0.03},{"s":"θ10","x":0.82,"y":-0.02},{"s":"θ10","x":0.89,"y":0.03},{"s":"θ10","x":0.96,"y":-0.02},
      {"s":"θ10","x":0.03,"y":0.09},{"s":"θ10","x":0.11,"y":0.05},{"s":"θ10","x":0.19,"y":0.1},{"s":"θ10","x":0.27,"y":0.06},{"s":"θ10","x":0.35,"y":0.1},{"s":"θ10","x":0.43,"y":0.06},{"s":"θ10","x":0.51,"y":0.1},{"s":"θ10","x":0.59,"y":0.06},{"s":"θ10","x":0.67,"y":0.1},{"s":"θ10","x":0.75,"y":0.06},{"s":"θ10","x":0.83,"y":0.1},{"s":"θ10","x":0.91,"y":0.06},{"s":"θ10","x":0.99,"y":0.1},
      {"s":"θ10","x":0.02,"y":0.13},{"s":"θ10","x":0.1,"y":0.04},{"s":"θ10","x":0.18,"y":-0.04},{"s":"θ10","x":0.26,"y":0.13},{"s":"θ10","x":0.34,"y":0.04},{"s":"θ10","x":0.42,"y":-0.04},{"s":"θ10","x":0.5,"y":0.13},{"s":"θ10","x":0.58,"y":0.04},{"s":"θ10","x":0.66,"y":-0.04},{"s":"θ10","x":0.74,"y":0.13},{"s":"θ10","x":0.82,"y":0.04},{"s":"θ10","x":0.9,"y":-0.04},{"s":"θ10","x":0.98,"y":0.13},
      {"s":"θ10","x":1.03,"y":0.02},{"s":"θ10","x":1.1,"y":-0.02},{"s":"θ10","x":1.17,"y":0.02},{"s":"θ10","x":1.24,"y":-0.02},{"s":"θ10","x":1.31,"y":0.02},{"s":"θ10","x":1.38,"y":-0.02},{"s":"θ10","x":1.45,"y":0.02},{"s":"θ10","x":1.52,"y":-0.02},{"s":"θ10","x":1.59,"y":0.02},{"s":"θ10","x":1.66,"y":-0.02},{"s":"θ10","x":1.73,"y":0.02},{"s":"θ10","x":1.8,"y":-0.02},{"s":"θ10","x":1.87,"y":0.02},{"s":"θ10","x":1.94,"y":-0.02},{"s":"θ10","x":2.01,"y":0.02},{"s":"θ10","x":2.1,"y":0.06},{"s":"θ10","x":2.18,"y":0.01},{"s":"θ10","x":2.26,"y":0.06},{"s":"θ10","x":2.34,"y":0.01},{"s":"θ10","x":2.42,"y":0.06},{"s":"θ10","x":2.5,"y":0.01},{"s":"θ10","x":2.58,"y":0.06},{"s":"θ10","x":2.66,"y":0.01},{"s":"θ10","x":2.74,"y":0.06},{"s":"θ10","x":2.82,"y":0.01},{"s":"θ10","x":2.9,"y":0.06},{"s":"θ10","x":2.96,"y":0.01}
    ]
  },
  "bounds": "flush",
  "spacing": 105,
  "hconcat": [
    {
      "width": 358,
      "height": 372,
      "layer": [
        {
          "data": {"values": [{"v": 0}]},
          "mark": {"type": "rule", "color": "#333333", "strokeWidth": 1},
          "encoding": {
            "x": {"field": "v", "type": "quantitative", "scale": {"domain": [-3, 3], "nice": false, "zero": false}}
          }
        },
        {
          "data": {"name": "f2"},
          "mark": {"type": "point", "filled": true, "size": 90, "stroke": "#000000", "strokeWidth": 1, "opacity": 1},
          "encoding": {
            "x": {"field": "x", "type": "quantitative", "scale": {"domain": [-3, 3], "nice": false, "zero": false},
                  "axis": {"values": [-3, -2, -1, 0, 1, 2, 3], "title": "全体変形角（×10⁻²rad）", "labelPadding": 14, "titlePadding": 11}},
            "y": {"field": "y", "type": "quantitative", "scale": {"domain": [-3, 3], "nice": false, "zero": false},
                  "axis": {"values": [-3, -2, -1, 0, 1, 2, 3], "title": "回転角（×10⁻²rad）", "labelPadding": 20, "titlePadding": 7}},
            "color": {"field": "s", "type": "nominal",
                      "scale": {"domain": ["θ1", "θ2", "θ3", "θ4", "θ5"], "range": ["#4472c4", "#ed7d31", "#a5a5a5", "#ffc000", "#000000"]},
                      "legend": {"title": null, "orient": "none", "legendX": 300, "legendY": 228}},
            "shape": {"field": "s", "type": "nominal",
                      "scale": {"domain": ["θ1", "θ2", "θ3", "θ4", "θ5"], "range": ["circle", "diamond", "triangle-up", "square", "M-1,-1L1,1M1,-1L-1,1"]},
                      "legend": {"title": null, "orient": "none", "legendX": 300, "legendY": 228}}
          }
        },
        {
          "data": {"values": [{"t": "B, 2F", "x1": -2.9, "x2": -1.66, "y1": 2.26, "y2": 2.9, "tx": -2.28, "ty": 2.58}]},
          "layer": [
            {
              "mark": {"type": "rect", "fill": "#ffffff", "stroke": "#333333", "strokeWidth": 1},
              "encoding": {
                "x": {"field": "x1", "type": "quantitative", "scale": {"domain": [-3, 3], "nice": false, "zero": false}},
                "x2": {"field": "x2"},
                "y": {"field": "y1", "type": "quantitative", "scale": {"domain": [-3, 3], "nice": false, "zero": false}},
                "y2": {"field": "y2"}
              }
            },
            {
              "mark": {"type": "text", "fontSize": 20, "color": "#595959", "align": "center", "baseline": "middle", "font": "Noto Sans CJK JP"},
              "encoding": {
                "x": {"field": "tx", "type": "quantitative"},
                "y": {"field": "ty", "type": "quantitative"},
                "text": {"field": "t"}
              }
            }
          ]
        }
      ]
    },
    {
      "width": 361,
      "height": 372,
      "layer": [
        {
          "data": {"values": [{"v": 0}]},
          "mark": {"type": "rule", "color": "#333333", "strokeWidth": 1},
          "encoding": {
            "x": {"field": "v", "type": "quantitative", "scale": {"domain": [-3, 3], "nice": false, "zero": false}}
          }
        },
        {
          "data": {"name": "f3"},
          "mark": {"type": "point", "filled": true, "size": 90, "stroke": "#000000", "strokeWidth": 1, "opacity": 1},
          "encoding": {
            "x": {"field": "x", "type": "quantitative", "scale": {"domain": [-3, 3], "nice": false, "zero": false},
                  "axis": {"values": [-3, -2, -1, 0, 1, 2, 3], "title": "全体変形角（×10⁻²rad）", "labelPadding": 14, "titlePadding": 11}},
            "y": {"field": "y", "type": "quantitative", "scale": {"domain": [-3, 3], "nice": false, "zero": false},
                  "axis": {"values": [-3, -2, -1, 0, 1, 2, 3], "title": null, "labelPadding": 20}},
            "color": {"field": "s", "type": "nominal",
                      "scale": {"domain": ["θ6", "θ7", "θ8", "θ9", "θ10"], "range": ["#4472c4", "#ed7d31", "#a5a5a5", "#ffc000", "#000000"]},
                      "legend": {"title": null, "orient": "none", "legendX": 187, "legendY": 226}},
            "shape": {"field": "s", "type": "nominal",
                      "scale": {"domain": ["θ6", "θ7", "θ8", "θ9", "θ10"], "range": ["circle", "diamond", "triangle-up", "square", "M-1,-1L1,1M1,-1L-1,1"]},
                      "legend": {"title": null, "orient": "none", "legendX": 187, "legendY": 226}}
          }
        },
        {
          "data": {"values": [{"t": "B, 3F", "x1": -2.9, "x2": -1.69, "y1": 2.25, "y2": 2.92, "tx": -2.3, "ty": 2.585}]},
          "layer": [
            {
              "mark": {"type": "rect", "fill": "#ffffff", "stroke": "#333333", "strokeWidth": 1},
              "encoding": {
                "x": {"field": "x1", "type": "quantitative", "scale": {"domain": [-3, 3], "nice": false, "zero": false}},
                "x2": {"field": "x2"},
                "y": {"field": "y1", "type": "quantitative", "scale": {"domain": [-3, 3], "nice": false, "zero": false}},
                "y2": {"field": "y2"}
              }
            },
            {
              "mark": {"type": "text", "fontSize": 20, "color": "#595959", "align": "center", "baseline": "middle", "font": "Noto Sans CJK JP"},
              "encoding": {
                "x": {"field": "tx", "type": "quantitative"},
                "y": {"field": "ty", "type": "quantitative"},
                "text": {"field": "t"}
              }
            }
          ]
        }
      ]
    }
  ],
  "resolve": {"scale": {"color": "independent", "shape": "independent", "x": "independent", "y": "independent"}, "legend": {"color": "independent", "shape": "independent"}}
}
